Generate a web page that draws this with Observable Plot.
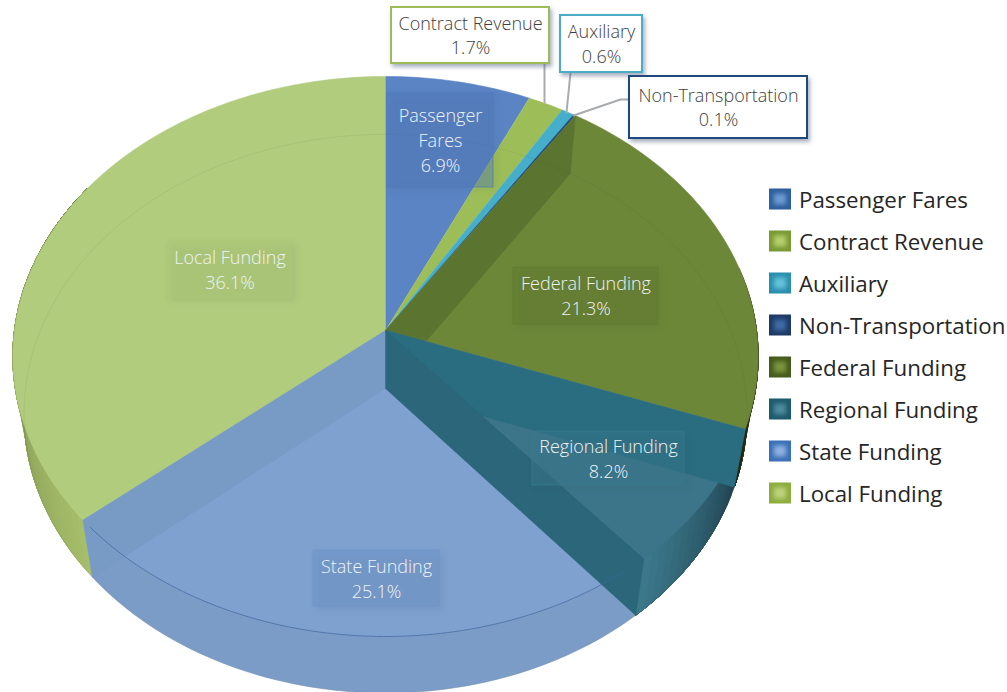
<!DOCTYPE html>
<html>
<head>
<meta charset="utf-8">
<script src="https://cdn.jsdelivr.net/npm/d3@7"></script>
<script src="https://cdn.jsdelivr.net/npm/@observablehq/plot@0.6"></script>
<style>
html,body{margin:0;padding:0;background:#fff;}
svg{display:block;}
.callout-box rect{filter:drop-shadow(2px 3px 2px rgba(80,95,125,.5));}
.inner-box rect{filter:drop-shadow(3px 3px 3px rgba(40,50,50,.14));}
.swatch-glow rect{filter:blur(2px);}
</style>
</head>
<body>
<div id="chart"></div>
<script>
// ---- data ----
const categories = ["Passenger Fares","Contract Revenue","Auxiliary","Non-Transportation","Federal Funding","Regional Funding","State Funding","Local Funding"];
const shares = [6.9,1.7,0.6,0.1,21.3,8.2,25.1,36.1];
const sliceLabels = ["Passenger\nFares\n6.9%","Contract Revenue\n1.7%","Auxiliary\n0.6%","Non-Transportation\n0.1%","Federal Funding\n21.3%","Regional Funding\n8.2%","State Funding\n25.1%","Local Funding\n36.1%"];

// ---- styles ----
const topColors = ["#5a84c4","#9dbd59","#45aeca","#1f497d","#6d8738","#3c7589","#7ea1d0","#b2cc7e"];
const swatchEdge = ["#2f5f9e","#7a9a35","#2a8fae","#1e3a66","#465c1c","#1d5a6c","#3a70b8","#8dad3e"];
const swatchGlow = ["#6c9bd2","#b5cf6d","#64c1d9","#3f6ba5","#7b9440","#4f8a9c","#8fb0dc","#bcd27e"];
const FONT = "Open Sans";

// ---- layout of annotations (pixel space of the chart frame) ----
const boxes = [
  {i:0,x1:387,x2:493,y1:93,y2:187,fill:"#4f79bb",op:.4},
  {i:4,x1:513,x2:658,y1:267,y2:324,fill:"#5f7a30",op:.4},
  {i:5,x1:532,x2:684,y1:431,y2:485,fill:"#3a7a90",op:.4},
  {i:6,x1:313,x2:439,y1:550,y2:606,fill:"#6f95cb",op:.55},
  {i:7,x1:167,x2:292,y1:241,y2:298,fill:"#abc878",op:.55}
];
const callouts = [
  {i:1,x1:391,x2:549,y1:7,y2:63,stroke:"#9dbb59"},
  {i:2,x1:560,x2:642,y1:15,y2:72,stroke:"#4bacc6"},
  {i:3,x1:629,x2:807,y1:76,y2:138,stroke:"#1f497d"}
];
const leaders = [
  {i:1,pts:[[544,63],[544,102]]},
  {i:2,pts:[[570,72],[566,112]]},
  {i:3,pts:[[629,99],[620,99],[573,115]]}
];
const legendTop = 200, legendStep = 42;

// ---- geometry: a circular disc seen in perspective ----
const W = 1007, H = 692;
const topDisc = {cx:385,cy:330,a:371,b:277.6,k:0.0928};
const baseDisc = {cx:385,cy:388,a:360,b:277,k:0.09};
const total = d3.sum(shares);
const cum = Array.from(d3.cumsum(shares), v => v/total);
const starts = [0, ...cum.slice(0,-1)];
function proj(d, f){
  const t = 2*Math.PI*f, u = Math.sin(t), v = Math.cos(t), den = 1 + d.k*v;
  return [d.cx + d.a*u/den, d.cy - d.b*v/den];
}
function arc(d, f0, f1){
  const n = Math.max(2, Math.ceil((f1-f0)*360));
  return d3.range(n+1).map(j => proj(d, f0 + (f1-f0)*j/n));
}
const polys = [];
function add(points, fill){
  const id = polys.length ? polys[polys.length-1].id + 1 : 0;
  points.forEach(p => polys.push({id, x:p[0], y:p[1], fill}));
}
function wedge(d, i){ return [[d.cx,d.cy], ...arc(d, starts[i], cum[i])]; }
function side(f0, f1, c0, c1){
  if (c0 === c1){ add([...arc(topDisc,f0,f1), ...arc(baseDisc,f0,f1).reverse()], c0); return; }
  const n = Math.max(2, Math.ceil((f1-f0)*200));
  const ci = d3.interpolateRgb(c0, c1);
  // each step is painted from its own start to the end of the wall, so no seams appear
  for (let j=0;j<n;j++){
    const a = f0+(f1-f0)*j/n;
    add([...arc(topDisc,a,f1), ...arc(baseDisc,a,f1).reverse()], ci((j+.5)/n));
  }
}
function cut(f, fill){
  add([[topDisc.cx,topDisc.cy], proj(topDisc,f), proj(baseDisc,f), [baseDisc.cx,baseDisc.cy]], fill);
}
// Side walls under the top faces
side(starts[7], cum[7]-0.16, "#a7bf6b", "#5d6f3a");
side(starts[4]+0.12, cum[4], "#3c4a1c", "#1d2a14");
// Far top faces
[0,1,2,3].forEach(i => add(wedge(topDisc,i), topColors[i]));
add(wedge(topDisc,7), topColors[7]);
add(wedge(topDisc,4), topColors[4]);
cut(starts[4], "#5b7530");
// Front: State
side(starts[6], cum[6], "#7a9cc6", "#7a9cc6");
add(wedge(topDisc,6), topColors[6]);
cut(cum[6], "#789bc6");
// Front: Regional
side(starts[5], cum[5], "#1f3f4d", "#3c7a8c");
add(wedge(topDisc,5), topColors[5]);
cut(starts[5], "#2a6d81");
cut(cum[5], "#2c667b");

const baseRim = arc(baseDisc,0,1).map(([x,y]) => ({x,y}));
const stateRim = arc(topDisc, starts[6]+0.01, cum[6]-0.005).map(([x,y]) => ({x,y}));
const leaderRows = leaders.flatMap(l => l.pts.map(p => ({i:l.i,x:p[0],y:p[1]})));

const legendRows = categories.map((name,i) => ({name,i,yc:legendTop+i*legendStep}));
const centre = b => ({x:(b.x1+b.x2)/2, y:(b.y1+b.y2)/2, text:sliceLabels[b.i]});

const plot = Plot.plot({
  width:W, height:H, margin:0,
  x:{domain:[0,W],range:[0,W],axis:null},
  y:{domain:[0,H],range:[0,H],axis:null},
  color:{type:"identity"},
  style:{background:"#fff"},
  marks:[
    Plot.line(polys,{x:"x",y:"y",z:"id",fill:"fill",stroke:"fill",strokeWidth:.6}),
    Plot.line(baseRim,{x:"x",y:"y",stroke:"#33421f",strokeOpacity:.08,strokeWidth:1}),
    Plot.line(stateRim,{x:"x",y:"y",stroke:"#3d6299",strokeOpacity:.7,strokeWidth:1}),
    Plot.line(leaderRows,{x:"x",y:"y",z:"i",stroke:"#a9abaf",strokeWidth:2}),
    Plot.rect(boxes,{x1:"x1",x2:"x2",y1:"y1",y2:"y2",fill:"fill",fillOpacity:"op",stroke:"fill",strokeOpacity:.7,className:"inner-box"}),
    Plot.rect(callouts,{x1:"x1",x2:"x2",y1:"y1",y2:"y2",fill:"#fff",stroke:"stroke",strokeWidth:2,className:"callout-box"}),
    Plot.text(boxes.map(centre),{x:"x",y:"y",dy:-1.5,text:"text",fill:"#eef3f6",fontFamily:FONT,fontSize:18,lineHeight:1.39,fontWeight:300}),
    Plot.text(callouts.map(centre),{x:"x",y:"y",dy:-1.5,text:"text",fill:"#404040",fontFamily:FONT,fontSize:18,lineHeight:1.36,fontWeight:300}),
    Plot.rect(legendRows,{x1:769,x2:791,y1:d=>d.yc-11.5,y2:d=>d.yc+9.5,fill:d=>swatchEdge[d.i]}),
    Plot.rect(legendRows,{x1:774,x2:786,y1:d=>d.yc-6.5,y2:d=>d.yc+4.5,fill:d=>swatchGlow[d.i],className:"swatch-glow"}),
    Plot.text(legendRows,{x:798.5,y:"yc",text:"name",textAnchor:"start",fill:"#262626",fontFamily:FONT,fontSize:22.3})
  ]
});
document.getElementById("chart").appendChild(plot);
</script>
</body>
</html>
